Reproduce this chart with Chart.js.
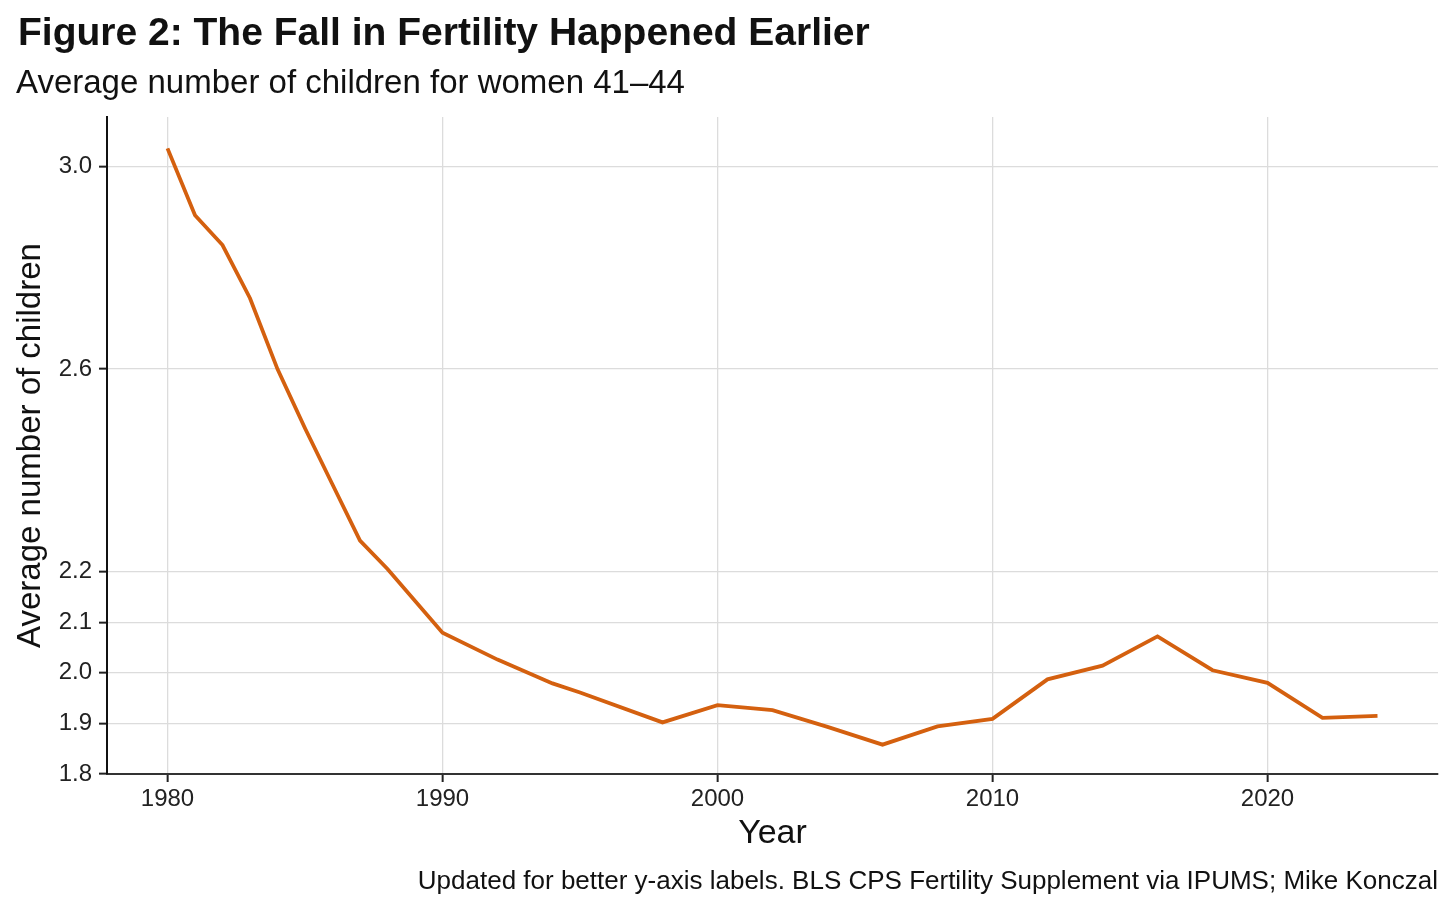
<!DOCTYPE html>
<html>
<head>
<meta charset="utf-8">
<script src="https://cdn.jsdelivr.net/npm/chart.js@4"></script>
<style>
  body { margin: 0; background: #fff; font-family: "Liberation Sans", Arial, sans-serif; }
  #wrap { position: relative; width: 1456px; height: 910px; }
  #graf { position: absolute; left: 0; top: 0; }
  .t { position: absolute; color: #111; white-space: nowrap; }
  #titulo { left: 18px; top: 10px; font-size: 39px; font-weight: bold; }
  #sub { left: 16px; top: 63px; font-size: 33px; }
  #fonte { right: 18px; top: 865px; font-size: 26px; }
</style>
</head>
<body>
<div id="wrap">
  <canvas id="graf" width="1456" height="910"></canvas>
  <div class="t" id="titulo">Figure 2: The Fall in Fertility Happened Earlier</div>
  <div class="t" id="sub">Average number of children for women 41–44</div>
  <div class="t" id="fonte">Updated for better y-axis labels. BLS CPS Fertility Supplement via IPUMS; Mike Konczal</div>
</div>
<script>
const anos = [1980, 1981, 1982, 1983, 1984, 1985, 1986, 1987, 1988, 1990, 1992, 1994, 1995, 1998,
  2000, 2002, 2004, 2006, 2008, 2010, 2012, 2014, 2016, 2018, 2020, 2022, 2024];
const filhos = [3.036, 2.904, 2.845, 2.740, 2.600, 2.483, 2.372, 2.261, 2.205, 2.079, 2.026, 1.979, 1.961, 1.902,
  1.936, 1.926, 1.893, 1.858, 1.894, 1.909, 1.987, 2.014, 2.072, 2.005, 1.980, 1.911, 1.915];
const ticksY = [1.8, 1.9, 2.0, 2.1, 2.2, 2.6, 3.0];
const ticksX = [1980, 1990, 2000, 2010, 2020];

const fonte = 'Liberation Sans';
const ctx = document.getElementById('graf').getContext('2d');

new Chart(ctx, {
  type: 'line',
  data: {
    datasets: [{
      label: 'Average number of children',
      data: anos.map((a, i) => ({ x: a, y: filhos[i] })),
      borderColor: '#d4600f',
      borderWidth: 3.8,
      pointRadius: 0,
      tension: 0,
      fill: false
    }]
  },
  options: {
    responsive: false,
    animation: false,
    layout: { padding: { top: 117, right: 18, bottom: 56, left: 11 } },
    plugins: {
      legend: { display: false },
      tooltip: { enabled: false }
    },
    scales: {
      x: {
        type: 'linear',
        min: 1977.8,
        max: 2026.2,
        afterBuildTicks: s => { s.ticks = ticksX.map(v => ({ value: v })); },
        afterFit: s => { s.height = 80; },
        ticks: {
          color: '#222',
          font: { family: fonte, size: 24 },
          padding: 3,
          callback: v => String(v)
        },
        grid: { color: '#dcdcdc', lineWidth: 1.3, tickColor: '#222', tickLength: 8, tickWidth: 2 },
        border: { color: '#333', width: 2 },
        title: {
          display: true,
          text: 'Year',
          color: '#111',
          font: { family: fonte, size: 34 },
          padding: { top: 2, bottom: 0 }
        }
      },
      y: {
        min: 1.8,
        max: 3.098,
        afterBuildTicks: s => { s.ticks = ticksY.map(v => ({ value: v })); },
        afterFit: s => { s.width = 96; },
        ticks: {
          color: '#222',
          font: { family: fonte, size: 24 },
          padding: 7,
          callback: v => v.toFixed(1)
        },
        grid: { color: '#dcdcdc', lineWidth: 1.3, tickColor: '#222', tickLength: 8, tickWidth: 2 },
        border: { color: '#111', width: 2 },
        title: {
          display: true,
          text: 'Average number of children',
          color: '#111',
          font: { family: fonte, size: 33 },
          padding: { top: 0, bottom: 4 }
        }
      }
    }
  }
});
</script>
</body>
</html>
